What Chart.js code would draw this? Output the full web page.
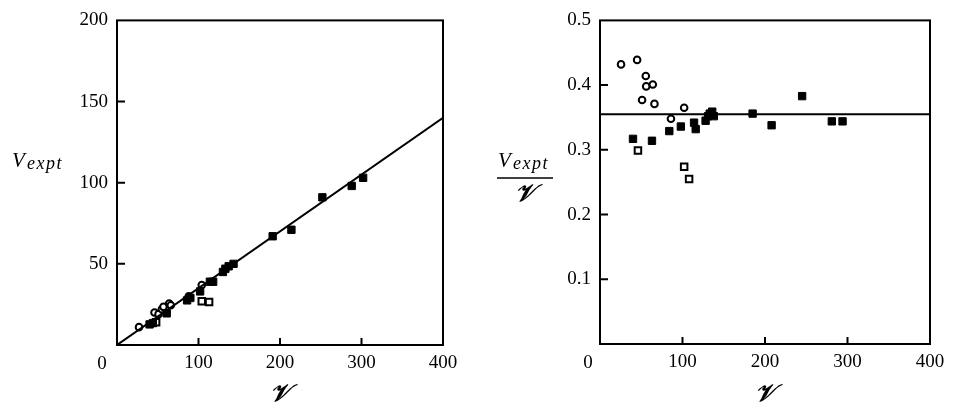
<!DOCTYPE html>
<html>
<head>
<meta charset="utf-8">
<script src="https://cdn.jsdelivr.net/npm/chart.js@4/dist/chart.umd.min.js"></script>
<style>
  body { margin: 0; background: #fff; }
  #wrap { position: relative; width: 955px; height: 410px; }
  #leftChart { position: absolute; left: 0; top: 0; }
  #rightChart { position: absolute; left: 477px; top: 0; }
</style>
</head>
<body>
<div id="wrap">
  <canvas id="leftChart" width="477" height="410"></canvas>
  <canvas id="rightChart" width="478" height="410"></canvas>
</div>
<script>
'use strict';

// axis ticks
const xTickVals = [0, 100, 200, 300, 400];
const leftYTicks = [50, 100, 150];
const rightYTicks = [0.1, 0.2, 0.3, 0.4];

// left panel: V_expt against script V
const leftFilledX = [40, 44, 61, 86, 90, 102, 114, 118, 130, 133, 137, 143, 191, 214, 252, 288, 302];
const leftFilledY = [12.7, 13.5, 19.5, 27.5, 29, 33, 39, 39, 45, 47, 48.5, 50, 67, 71, 91, 98, 103];
const leftCircleX = [27, 46, 51, 55, 57, 64, 66, 88, 104];
const leftCircleY = [11, 20, 19, 22, 23.5, 25.5, 24.5, 30, 37];
const leftOpenSqX = [48, 104, 113];
const leftOpenSqY = [14, 27, 26.5];
const leftLineX = [0, 400];
const leftLineY = [0, 140];

// right panel: V_expt / script V
const rightFilledX = [40, 63, 84, 98, 114, 116, 128, 131, 133, 136, 138, 185, 208, 245, 281, 294];
const rightFilledY = [0.317, 0.314, 0.329, 0.336, 0.342, 0.332, 0.345, 0.352, 0.356, 0.359, 0.352, 0.356, 0.338, 0.383, 0.344, 0.344];
const rightCircleX = [25.5, 45, 51, 55.5, 56, 64, 66, 86, 102];
const rightCircleY = [0.432, 0.439, 0.377, 0.414, 0.398, 0.401, 0.371, 0.348, 0.365];
const rightOpenSqX = [46, 102, 108];
const rightOpenSqY = [0.299, 0.274, 0.255];
const rightLineX = [0, 400];
const rightLineY = [0.355, 0.355];

const SERIF = '"Liberation Serif", "DejaVu Serif", serif';

const pts = (xs, ys) => xs.map((v, i) => ({ x: v, y: ys[i] }));

// frame, inward ticks, the corner "0" and the axis titles
const framePlugin = {
  id: 'frame',
  afterDraw(chart, args, o) {
    const { ctx, chartArea: a, scales } = chart;
    ctx.save();
    ctx.strokeStyle = '#000';
    ctx.lineWidth = 2;
    ctx.strokeRect(a.left, a.top, a.right - a.left, a.bottom - a.top);
    ctx.beginPath();
    o.xTicks.forEach((v) => {
      const px = scales.x.getPixelForValue(v);
      ctx.moveTo(px, a.bottom);
      ctx.lineTo(px, a.bottom - 7);
    });
    o.yTicks.forEach((v) => {
      const py = scales.y.getPixelForValue(v);
      ctx.moveTo(a.left, py);
      ctx.lineTo(a.left + 8, py);
    });
    ctx.stroke();

    ctx.fillStyle = '#000';
    ctx.textAlign = 'center';
    ctx.textBaseline = 'middle';
    ctx.font = '19px ' + SERIF;
    ctx.fillText('0', a.left + o.zeroDx, a.bottom + 19);

    // x title
    ctx.font = 'bold italic 24px ' + SERIF;
    ctx.fillText('𝒱', (a.left + a.right) / 2, 395);

    // y title
    ctx.textAlign = 'left';
    ctx.textBaseline = 'alphabetic';
    ctx.font = 'italic 21px ' + SERIF;
    ctx.fillText('V', o.titleX, 167);
    ctx.font = 'italic 18px ' + SERIF;
    ctx.letterSpacing = '1.5px';
    ctx.fillText('expt', o.titleX + 15, 169);
    ctx.letterSpacing = '0px';
    if (o.fraction) {
      ctx.beginPath();
      ctx.lineWidth = 1.5;
      ctx.moveTo(o.titleX - 1, 178);
      ctx.lineTo(o.titleX + 55, 178);
      ctx.stroke();
      ctx.textAlign = 'center';
      ctx.textBaseline = 'middle';
      ctx.font = 'bold italic 24px ' + SERIF;
      ctx.fillText('𝒱', o.titleX + 27, 195);
    }
    ctx.restore();
  },
};

function makeChart(id, d, yMax, yStep, yWidth, xHeight, padRight, frameOpts) {
  return new Chart(document.getElementById(id), {
    type: 'scatter',
    data: {
      datasets: [
        {
          type: 'line',
          data: pts(d.lineX, d.lineY),
          borderColor: '#000',
          borderWidth: 2,
          pointRadius: 0,
        },
        {
          data: pts(d.filledX, d.filledY),
          pointStyle: 'rect',
          pointRadius: 5.2,
          backgroundColor: '#000',
          borderColor: '#000',
          borderWidth: 1,
        },
        {
          data: pts(d.circleX, d.circleY),
          pointStyle: 'circle',
          pointRadius: 3.3,
          backgroundColor: '#fff',
          borderColor: '#000',
          borderWidth: 2,
        },
        {
          data: pts(d.openSqX, d.openSqY),
          pointStyle: 'rect',
          pointRadius: 4.6,
          backgroundColor: '#fff',
          borderColor: '#000',
          borderWidth: 2,
        },
      ],
    },
    options: {
      responsive: false,
      animation: false,
      layout: { padding: { top: 14, right: padRight, left: 0, bottom: 0 } },
      plugins: {
        legend: { display: false },
        tooltip: { enabled: false },
        frame: frameOpts,
      },
      scales: {
        x: {
          type: 'linear',
          min: 0,
          max: 400,
          afterFit: (s) => { s.height = xHeight; },
          afterBuildTicks: (s) => { s.ticks = xTickVals.map((v) => ({ value: v })); },
          grid: { display: false, drawTicks: false },
          border: { display: false },
          ticks: {
            padding: 7,
            color: '#000',
            font: { family: SERIF, size: 19 },
            callback: (v) => (v === 0 ? '' : String(v)),
          },
        },
        y: {
          type: 'linear',
          min: 0,
          max: yMax,
          afterFit: (s) => { s.width = yWidth; },
          grid: { display: false, drawTicks: false },
          border: { display: false },
          ticks: {
            stepSize: yStep,
            padding: 9,
            color: '#000',
            font: { family: SERIF, size: 19 },
            callback: (v) => (v === 0 ? '' : String(v)),
          },
        },
      },
    },
    plugins: [framePlugin],
  });
}

makeChart('leftChart', {
  lineX: leftLineX, lineY: leftLineY,
  filledX: leftFilledX, filledY: leftFilledY,
  circleX: leftCircleX, circleY: leftCircleY,
  openSqX: leftOpenSqX, openSqY: leftOpenSqY,
}, 200, 50, 117, 65, 34, {
  xTicks: [100, 200, 300], yTicks: leftYTicks, zeroDx: -15, titleX: 12, fraction: false,
});

makeChart('rightChart', {
  lineX: rightLineX, lineY: rightLineY,
  filledX: rightFilledX, filledY: rightFilledY,
  circleX: rightCircleX, circleY: rightCircleY,
  openSqX: rightOpenSqX, openSqY: rightOpenSqY,
}, 0.5, 0.1, 123, 66, 25, {
  xTicks: [100, 200, 300], yTicks: rightYTicks, zeroDx: -12, titleX: 21, fraction: true,
});
</script>
</body>
</html>
